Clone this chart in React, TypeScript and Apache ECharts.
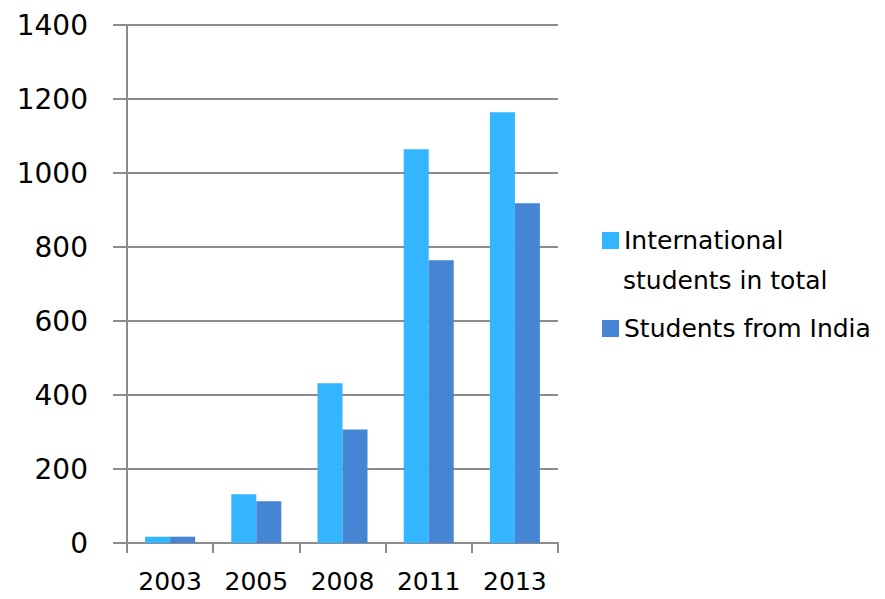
import React, { useEffect, useRef } from "react";
import * as echarts from "echarts";

const categories = ["2003", "2005", "2008", "2011", "2013"];
const internationalTotal = [17, 132, 432, 1064, 1164];
const fromIndia = [17, 113, 307, 764, 918];
const seriesNames = ["International students in total", "Students from India"];
const yMin = 0;
const yMax = 1400;
const yStep = 200;

const FONT = "DejaVu Sans";
const GRAY = "#8c8c8c";

export default function App() {
  const ref = useRef<HTMLDivElement>(null);
  useEffect(() => {
    if (!ref.current) return;
    const chart = echarts.init(ref.current, undefined, { renderer: "svg" });
    chart.setOption({
      animation: false,
      backgroundColor: "#ffffff",
      grid: { left: 127, right: 327, top: 25, bottom: 56, containLabel: false },
      xAxis: {
        type: "category",
        data: categories,
        axisLine: { show: true, lineStyle: { color: GRAY, width: 2 } },
        axisTick: { show: true, inside: false, length: 10, alignWithLabel: false, lineStyle: { color: GRAY, width: 2 } },
        axisLabel: { color: "#000", fontFamily: FONT, fontSize: 25, margin: 26 },
        splitLine: { show: false },
      },
      yAxis: [
        {
          type: "value",
          min: yMin,
          max: yMax,
          interval: yStep,
          axisLine: { show: true, lineStyle: { color: GRAY, width: 2 } },
          axisTick: { show: true, inside: false, length: 14, lineStyle: { color: GRAY, width: 2 } },
          axisLabel: {
            color: "#000",
            fontFamily: FONT,
            fontSize: 28,
            margin: 39,
            formatter: (v: number) => String(v),
          },
          splitLine: { show: true, lineStyle: { color: GRAY, width: 2 } },
        },
        {
          type: "value",
          position: "left",
          min: yMin,
          max: yMax,
          interval: yStep,
          axisLine: { show: false },
          axisTick: { show: true, inside: false, length: 14, lineStyle: { color: GRAY, width: 2 } },
          axisLabel: { show: false },
          splitLine: { show: false },
        },
      ],
      legend: [
        {
          data: [seriesNames[0]],
          left: 597,
          top: 223,
          itemWidth: 17,
          itemHeight: 17,
          itemGap: 9,
          icon: "rect",
          formatter: () => "International",
          textStyle: { color: "#000", fontFamily: FONT, fontSize: 25 },
        },
        {
          data: [seriesNames[1]],
          left: 597,
          top: 311,
          itemWidth: 17,
          itemHeight: 17,
          itemGap: 9,
          icon: "rect",
          textStyle: { color: "#000", fontFamily: FONT, fontSize: 25 },
        },
      ],
      graphic: [
        {
          type: "text",
          left: 623,
          top: 268,
          style: { text: "students in total", fill: "#000", font: `25px "${FONT}"` },
        },
      ],
      series: [
        {
          name: seriesNames[0],
          type: "bar",
          data: internationalTotal,
          barWidth: 25,
          barGap: "0%",
          itemStyle: { color: "#33b5ff" },
        },
        {
          name: seriesNames[1],
          type: "bar",
          data: fromIndia,
          barWidth: 25,
          barGap: "0%",
          itemStyle: { color: "#4585d4" },
        },
      ],
    });
    return () => chart.dispose();
  }, []);
  return <div ref={ref} style={{ width: 885, height: 599, position: "absolute", left: 0, top: 0 }} />;
}
